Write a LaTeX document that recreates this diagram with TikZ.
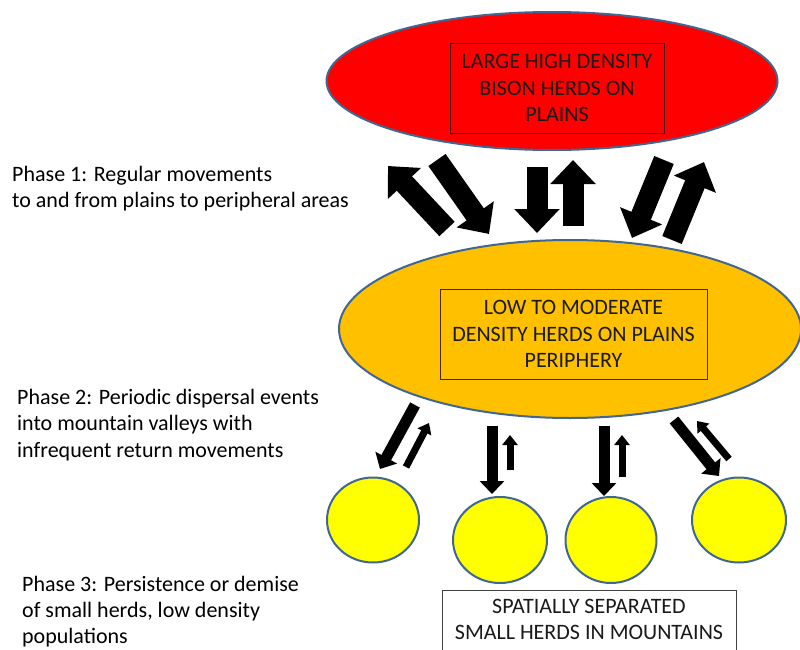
\documentclass[tikz,border=0pt]{standalone}
\usepackage{fontspec}
\setmainfont{Carlito}
\usetikzlibrary{arrows.meta,shapes.geometric}
\definecolor{edgeblue}{HTML}{41668F}
\definecolor{redfill}{HTML}{FF0000}
\definecolor{orangefill}{HTML}{FFC000}
\definecolor{yellowfill}{HTML}{FFFF00}
\definecolor{txt}{HTML}{1A1A1A}
\tikzset{
  blob/.style={ellipse, draw=edgeblue, line width=2pt, inner sep=0pt},
  labelbox/.style={draw=#1, line width=0.8pt, align=center, inner sep=0pt, text=txt},
  bodyfont/.style={font=\fontsize{22}{26.5}\selectfont},
  phase/.style={anchor=north west, align=left, inner sep=0pt, text=black, bodyfont},
  bigarrow/.style={line width=21pt, -{Triangle[length=24pt,width=44pt]}},
  midarrow/.style={line width=11pt, -{Triangle[length=13pt,width=24pt]}},
  smallarrow/.style={line width=7pt, -{Triangle[length=10pt,width=15pt]}},
}
\begin{document}
\begin{tikzpicture}[x=1pt,y=-1pt]
\useasboundingbox (0,0) rectangle (800,650);
\fill[white] (0,0) rectangle (800,650);

% ellipses
\node[blob, fill=redfill, minimum width=451pt, minimum height=138pt] (plains) at (552,81) {};
\node[blob, fill=orangefill, minimum width=462pt, minimum height=178pt] (periph) at (570,329) {};

\node[labelbox=black!70!red, minimum width=214pt, minimum height=90pt, bodyfont] (plainsbox) at (557,88) {LARGE HIGH DENSITY\\BISON HERDS ON\\PLAINS};
\node[labelbox=black!70!orange, minimum width=267pt, minimum height=90pt, bodyfont] (periphbox) at (573.5,334) {LOW TO MODERATE\\DENSITY HERDS ON PLAINS\\PERIPHERY};

% small herds
\node[blob, fill=yellowfill, minimum width=92pt, minimum height=85pt] (h1) at (373,520) {};
\node[blob, fill=yellowfill, minimum width=94pt, minimum height=86pt] (h2) at (500,540) {};
\node[blob, fill=yellowfill, minimum width=91pt, minimum height=86pt] (h3) at (611,540) {};
\node[blob, fill=yellowfill, minimum width=94pt, minimum height=85pt] (h4) at (739,520) {};

\node[labelbox=black!75, fill=white, minimum width=294pt, minimum height=72pt, anchor=north] (mtnbox) at (589,590) {};
\node[align=center, anchor=north, inner sep=0pt, text=txt, bodyfont] (mtntext) at (589,599) {SPATIALLY SEPARATED\\SMALL HERDS IN MOUNTAINS};

% phase labels
\node[phase] (p1) at (12,166) {Phase 1: Regular movements\\to and from plains to peripheral areas};
\node[phase] (p2) at (17,389) {Phase 2: Periodic dispersal events\\into mountain valleys with\\infrequent return movements};
\node[phase, font=\fontsize{22}{26}\selectfont] (p3) at (22,576) {Phase 3: Persistence or demise\\of small herds, low density\\populations};

% phase 1 arrows
\coordinate (a1s) at (447,229); \coordinate (a1e) at (388,166);
\coordinate (a2s) at (437,160); \coordinate (a2e) at (489,234);
\coordinate (a3s) at (537,167); \coordinate (a3e) at (537,233);
\coordinate (a4s) at (573,226); \coordinate (a4e) at (573,160);
\coordinate (a5s) at (664,160); \coordinate (a5e) at (632,238);
\coordinate (a6s) at (672,240); \coordinate (a6e) at (704,162);
\draw[bigarrow] (a1s) -- (a1e);
\draw[bigarrow] (a2s) -- (a2e);
\draw[bigarrow] (a3s) -- (a3e);
\draw[bigarrow] (a4s) -- (a4e);
\draw[bigarrow] (a5s) -- (a5e);
\draw[bigarrow] (a6s) -- (a6e);

% phase 2 arrows
\coordinate (b1s) at (415,405); \coordinate (b1e) at (380,469);
\coordinate (b2s) at (406,467); \coordinate (b2e) at (429,423);
\coordinate (b3s) at (492,426); \coordinate (b3e) at (492,494);
\coordinate (b4s) at (510,470); \coordinate (b4e) at (510,435);
\coordinate (b5s) at (604,426); \coordinate (b5e) at (604,496);
\coordinate (b6s) at (622,477); \coordinate (b6e) at (622,435);
\coordinate (b7s) at (674,420); \coordinate (b7e) at (719,476);
\coordinate (b8s) at (729,459); \coordinate (b8e) at (697,421);
\draw[midarrow] (b1s) -- (b1e);
\draw[smallarrow] (b2s) -- (b2e);
\draw[midarrow] (b3s) -- (b3e);
\draw[smallarrow] (b4s) -- (b4e);
\draw[midarrow] (b5s) -- (b5e);
\draw[smallarrow] (b6s) -- (b6e);
\draw[midarrow] (b7s) -- (b7e);
\draw[smallarrow] (b8s) -- (b8e);
\end{tikzpicture}
\end{document}
